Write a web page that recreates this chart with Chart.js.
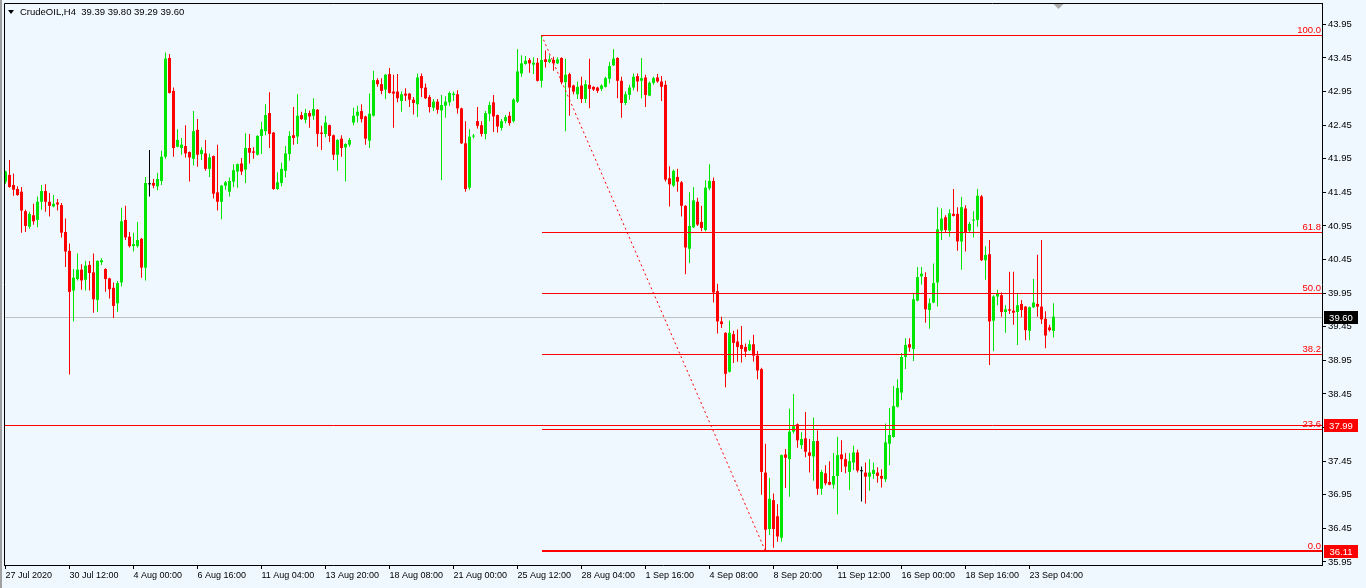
<!DOCTYPE html>
<html>
<head>
<meta charset="utf-8">
<script src="https://cdn.jsdelivr.net/npm/chart.js@4/dist/chart.umd.min.js"></script>
<style>
html,body{margin:0;padding:0;background:#F0F8FF;overflow:hidden}
canvas{display:block}
</style>
</head>
<body>
<canvas id="c" width="1366" height="588"></canvas>
<script>
// ---------------- DATA ----------------
const symbolTitle = 'CrudeOIL,H4';
const lastOHLC = ['39.39', '39.80', '39.29', '39.60'];

const opens = [
41.61,41.71,41.56,41.50,41.46,41.17,40.94,41.11,41.04,41.31,41.47,41.31,41.24,41.30,41.26,40.86,40.58,39.99,40.16,40.30,
40.15,40.37,40.26,39.85,40.41,40.31,40.17,40.03,39.80,40.11,41.04,40.79,40.65,40.65,40.76,40.33,41.57,41.59,41.54,41.62,
41.98,43.45,42.96,42.13,42.11,42.14,42.05,41.95,42.38,42.02,42.03,41.80,41.99,41.45,41.31,41.55,41.46,41.61,41.76,41.88,
41.79,42.11,42.06,42.01,42.29,42.36,42.63,42.34,41.50,41.59,41.77,42.02,42.30,42.28,42.60,42.53,42.63,42.59,42.68,42.34,
42.32,42.45,42.30,42.01,42.25,42.12,42.16,42.49,42.59,42.66,42.58,42.22,42.59,43.12,43.06,42.98,43.21,42.95,42.95,42.81,
42.92,42.92,42.83,42.76,43.18,43.01,42.87,42.71,42.80,42.67,42.74,42.79,42.90,42.91,42.70,42.18,41.52,42.28,42.51,42.45,
42.32,42.62,42.79,42.60,42.41,42.51,42.59,42.51,42.80,43.22,43.36,43.42,43.35,43.38,43.11,43.43,43.39,43.42,43.37,43.45,
43.09,43.21,43.04,42.91,43.04,42.84,43.05,43.02,43.01,42.99,43.02,43.14,43.34,43.45,43.11,42.78,42.90,43.01,43.18,43.11,
43.16,42.89,43.08,43.16,43.10,43.05,41.66,41.55,41.68,41.60,41.25,40.61,40.93,41.31,41.01,40.89,41.51,41.62,39.98,39.53,
39.36,38.78,39.34,39.23,39.18,39.15,39.10,39.19,39.02,38.82,37.28,36.44,36.87,36.63,36.31,37.55,37.48,37.89,38.00,37.69,
37.79,37.58,37.52,37.75,37.04,37.27,37.14,37.10,37.23,37.55,37.48,37.29,37.43,37.58,37.30,37.28,37.22,37.26,37.28,37.23,
37.18,37.71,37.81,38.26,38.47,39.00,39.19,39.12,39.84,40.20,40.19,39.70,39.81,40.11,40.88,41.08,40.88,41.13,41.13,40.72,
41.21,40.88,41.03,41.04,41.39,40.44,40.53,39.54,39.90,39.92,39.67,39.71,39.69,39.67,39.79,39.75,39.39,39.74,39.79,39.75,
39.57,39.44,39.39
];
const highs = [
41.77,41.93,41.73,41.54,41.53,41.19,41.16,41.28,41.39,41.56,41.57,41.44,41.41,41.35,41.29,41.06,40.69,40.31,40.54,40.38,
40.43,40.43,40.54,40.44,40.47,40.32,40.18,40.11,40.13,41.22,41.25,40.86,40.85,41.01,40.77,41.68,42.08,41.65,41.74,42.07,
43.53,43.51,43.01,42.39,42.26,42.45,42.06,42.66,42.54,42.12,42.23,42.03,42.00,42.16,41.56,41.62,41.67,41.87,41.88,41.96,
42.33,42.32,42.12,42.30,42.50,42.76,42.94,42.35,41.75,41.89,42.14,42.36,42.72,42.91,42.65,42.69,42.67,42.85,42.69,42.44,
42.59,42.46,42.31,42.24,42.30,42.18,42.26,42.71,42.74,42.76,42.59,42.92,43.26,43.15,43.15,43.21,43.30,43.20,43.21,42.95,
43.00,42.93,42.87,43.22,43.22,43.07,42.90,42.84,42.84,42.90,42.88,42.95,42.95,42.97,42.71,42.51,42.39,42.32,42.72,42.51,
42.66,42.80,42.90,42.61,42.54,42.60,42.65,42.85,43.58,43.49,43.48,43.45,43.46,43.45,43.79,43.56,43.49,43.47,43.46,43.46,
43.44,43.23,43.05,43.10,43.17,43.12,43.44,43.03,43.02,43.06,43.17,43.39,43.58,43.46,43.17,42.95,43.05,43.22,43.22,43.45,
43.20,43.10,43.17,43.21,43.18,43.11,41.84,41.79,41.80,41.62,41.26,41.45,41.53,41.37,41.25,41.63,41.87,41.67,40.09,39.60,
39.37,39.54,39.39,39.41,39.46,39.20,39.25,39.33,39.09,38.84,37.71,37.20,36.97,36.81,37.55,37.63,38.23,38.45,38.01,37.88,
38.18,37.78,38.10,37.91,37.32,37.39,37.45,37.57,37.81,37.76,37.57,37.57,37.68,37.62,37.37,37.43,37.48,37.43,37.36,37.33,
38.01,38.24,38.57,38.67,39.06,39.28,39.28,39.95,40.34,40.34,40.26,39.87,40.39,41.23,41.21,41.11,41.20,41.50,41.23,41.38,
41.26,41.01,41.17,41.50,41.41,40.65,40.74,39.92,40.00,39.96,39.77,40.27,40.27,39.94,39.85,39.76,39.75,40.16,40.52,40.74,
39.68,39.48,39.80
];
const lows = [
41.58,41.52,41.40,41.40,40.85,40.86,40.91,40.97,40.93,41.19,41.16,41.09,41.23,41.18,40.78,40.34,38.74,39.53,40.14,40.00,
39.99,39.99,39.66,39.67,40.37,39.97,39.87,39.58,39.67,40.05,40.74,40.63,40.57,40.63,40.18,40.14,41.39,41.51,41.48,41.56,
41.95,42.92,41.98,42.12,42.01,41.97,41.61,41.85,41.83,41.93,41.77,41.68,41.36,41.18,41.05,41.49,41.39,41.53,41.52,41.71,
41.59,41.88,41.95,42.00,42.02,42.30,42.11,41.49,41.49,41.54,41.67,41.92,42.16,42.17,42.53,42.48,42.41,42.53,42.13,42.08,
42.27,42.20,41.93,41.77,41.98,41.61,42.13,42.45,42.49,42.49,42.16,42.11,42.58,43.02,42.91,42.84,42.92,42.41,42.79,42.65,
42.81,42.72,42.61,42.57,42.87,42.84,42.64,42.66,42.62,41.63,42.56,42.74,42.81,42.62,42.17,41.46,41.49,42.25,42.40,42.28,
42.24,42.51,42.35,42.34,42.37,42.48,42.44,42.49,42.78,43.17,43.35,43.23,43.21,43.10,43.01,43.31,43.37,43.26,43.36,43.06,
42.36,42.59,42.91,42.84,42.78,42.78,42.70,42.96,42.93,42.96,43.01,43.07,43.33,42.85,42.56,42.75,42.83,42.97,42.95,42.85,
42.72,42.88,43.05,43.08,42.81,41.61,41.24,41.53,41.46,41.09,40.23,40.40,40.92,40.95,40.87,40.87,41.48,39.81,39.35,39.43,
38.55,38.77,38.91,38.93,38.92,39.00,39.09,38.93,38.67,36.95,36.11,36.35,36.16,36.25,36.25,37.05,36.92,37.86,37.65,37.63,
37.51,37.28,37.16,36.95,36.95,37.09,37.09,37.04,36.66,37.29,37.27,37.02,37.32,37.28,36.85,36.82,37.01,37.19,37.13,37.06,
37.14,37.39,37.80,38.25,38.36,38.82,39.08,38.94,39.83,40.08,39.51,39.42,39.80,39.75,40.74,40.86,40.79,41.09,40.58,40.30,
40.57,40.85,40.78,40.94,40.43,40.15,38.88,39.09,39.77,39.60,39.36,39.64,39.48,39.18,39.59,39.25,39.25,39.73,39.60,39.49,
39.13,39.38,39.29
];
const closes = [
41.76,41.53,41.49,41.41,41.18,40.95,41.13,41.02,41.31,41.47,41.31,41.25,41.28,41.27,40.85,40.57,39.97,40.18,40.30,40.14,
40.36,40.25,39.86,40.43,40.44,40.16,40.01,39.76,40.10,41.02,40.78,40.65,40.68,40.74,40.33,41.59,41.57,41.55,41.65,41.98,
43.44,42.93,42.11,42.23,42.16,42.03,41.97,42.36,42.01,42.08,41.80,41.97,41.43,41.31,41.55,41.60,41.62,41.78,41.87,41.76,
42.11,42.04,42.04,42.29,42.39,42.60,42.32,41.50,41.60,41.80,42.03,42.29,42.26,42.59,42.54,42.63,42.58,42.69,42.32,42.32,
42.49,42.29,42.01,42.23,42.11,42.17,42.23,42.59,42.65,42.54,42.25,42.62,43.12,43.06,42.96,43.20,42.93,42.92,42.85,42.91,
42.89,42.83,42.78,43.16,43.00,42.85,42.72,42.80,42.68,42.75,42.80,42.93,42.92,42.70,42.18,41.50,42.28,42.29,42.44,42.32,
42.63,42.75,42.58,42.43,42.51,42.57,42.48,42.83,43.25,43.37,43.41,43.37,43.38,43.11,43.42,43.39,43.43,43.37,43.43,43.09,
43.20,43.01,42.95,43.02,42.84,43.06,42.99,42.98,42.96,43.04,43.15,43.33,43.44,43.11,42.78,42.91,43.01,43.17,43.10,43.15,
42.90,43.08,43.15,43.10,43.02,41.64,41.57,41.77,41.61,41.25,40.63,40.95,41.33,40.97,40.92,41.52,41.62,39.96,39.53,39.49,
38.75,39.36,39.21,39.15,39.12,39.08,39.19,39.02,38.80,37.29,36.43,36.89,36.44,36.33,37.54,37.50,37.89,37.97,37.76,37.78,
37.59,37.53,37.75,37.04,37.29,37.12,37.10,37.23,37.54,37.48,37.37,37.45,37.58,37.31,37.30,37.22,37.28,37.32,37.23,37.19,
37.73,37.84,38.27,38.54,39.00,39.18,39.14,39.86,40.19,40.24,39.71,39.80,40.10,40.90,41.06,40.89,41.14,41.10,40.72,41.23,
40.86,40.98,41.04,41.40,40.44,40.52,39.53,39.90,39.94,39.67,39.71,39.69,39.66,39.77,39.70,39.40,39.74,39.81,39.75,39.56,
39.32,39.40,39.60
];

const xTickLabels = ['27 Jul 2020','30 Jul 12:00','4 Aug 00:00','6 Aug 16:00','11 Aug 04:00','13 Aug 20:00',
  '18 Aug 08:00','21 Aug 00:00','25 Aug 12:00','28 Aug 04:00','1 Sep 16:00','4 Sep 08:00','8 Sep 20:00',
  '11 Sep 12:00','16 Sep 00:00','18 Sep 16:00','23 Sep 04:00'];
const xTickStep = 16; // bars between time labels
const yTickValues = [35.95,36.45,36.95,37.45,37.95,38.45,38.95,39.45,39.95,40.45,40.95,41.45,41.95,42.45,42.95,43.45,43.95];

// Fibonacci retracement anchors (bar index, price) and levels
const fibHighBar = 134, fibHighPrice = 43.79;
const fibLowBar = 190, fibLowPrice = 36.11;
const fibLevels = [0.0, 23.6, 38.2, 50.0, 61.8, 100.0];
const hLinePrice = 37.99;
const currentPrice = 39.60;

// ---------------- STYLE ----------------
const BG = '#F0F8FF';
const UP = '#00E600';
const DOWN = '#FF0000';
const DOJI = '#000000';
const FONT = 'Liberation Sans, Arial, sans-serif';
const TXT = '9.5px ' + FONT;

const candleColors = opens.map((o, i) => closes[i] > o ? UP : (closes[i] < o ? DOWN : DOJI));
const wickData = opens.map((o, i) => ({ x: i, y: [lows[i], highs[i]] }));
const bodyData = opens.map((o, i) => ({ x: i, y: [o, closes[i]] }));

const overlay = {
  id: 'overlay',
  beforeDraw(chart) {
    const ctx = chart.ctx;
    ctx.save();
    ctx.fillStyle = BG;
    ctx.fillRect(0, 0, chart.width, chart.height);
    ctx.fillStyle = '#A0A0A0';
    ctx.fillRect(0, 0, 2, chart.height);
    ctx.restore();
  },
  beforeDatasetsDraw(chart) {
    const { ctx, chartArea: a, scales: { y } } = chart;
    const py = Math.round(y.getPixelForValue(currentPrice)) + 0.5;
    ctx.save();
    ctx.strokeStyle = '#C0C0C0';
    ctx.lineWidth = 1;
    ctx.beginPath(); ctx.moveTo(a.left, py); ctx.lineTo(a.right, py); ctx.stroke();
    ctx.restore();
  },
  afterDatasetsDraw(chart) {
    const { ctx, chartArea: a, scales: { x, y } } = chart;
    ctx.save();
    ctx.beginPath(); ctx.rect(a.left, a.top, a.right - a.left, a.bottom - a.top); ctx.clip();
    // full width horizontal line
    let py = Math.round(y.getPixelForValue(hLinePrice)) + 0.5;
    ctx.strokeStyle = DOWN;
    ctx.lineWidth = 1;
    ctx.beginPath(); ctx.moveTo(a.left, py); ctx.lineTo(a.right, py); ctx.stroke();
    // fib levels
    const x0 = Math.round(x.getPixelForValue(fibHighBar));
    ctx.font = TXT;
    ctx.textAlign = 'right';
    ctx.textBaseline = 'alphabetic';
    fibLevels.forEach(lv => {
      const price = fibLowPrice + (fibHighPrice - fibLowPrice) * lv / 100;
      const yy = Math.round(y.getPixelForValue(price));
      ctx.strokeStyle = DOWN;
      ctx.lineWidth = lv === 0 ? 2 : 1;
      const off = lv === 0 ? 0 : 0.5;
      ctx.beginPath(); ctx.moveTo(x0, yy + off); ctx.lineTo(a.right, yy + off); ctx.stroke();
      ctx.fillStyle = DOWN;
      ctx.fillText(lv.toFixed(1), a.right - 1, yy - 2);
    });
    // dotted trend line
    ctx.strokeStyle = DOWN;
    ctx.lineWidth = 1;
    ctx.setLineDash([2, 3]);
    ctx.beginPath();
    ctx.moveTo(x.getPixelForValue(fibHighBar), y.getPixelForValue(fibHighPrice));
    ctx.lineTo(x.getPixelForValue(fibLowBar), y.getPixelForValue(fibLowPrice));
    ctx.stroke();
    ctx.restore();
  },
  afterDraw(chart) {
    const { ctx, chartArea: a, scales: { x, y } } = chart;
    ctx.save();
    // frame (left/top)
    ctx.strokeStyle = '#000';
    ctx.lineWidth = 1;
    ctx.beginPath();
    ctx.moveTo(a.left + 0.5, a.bottom); ctx.lineTo(a.left + 0.5, a.top + 0.5); ctx.lineTo(a.right, a.top + 0.5);
    ctx.stroke();
    // header
    ctx.fillStyle = '#000';
    ctx.beginPath(); ctx.moveTo(8, 10); ctx.lineTo(14, 10); ctx.lineTo(11, 14); ctx.closePath(); ctx.fill();
    ctx.font = TXT;
    ctx.textAlign = 'left';
    ctx.textBaseline = 'middle';
    ctx.fillText(symbolTitle + '  ' + lastOHLC.join(' '), 20, 12.5);
    // shift marker
    const sx = x.getPixelForValue(opens.length - 1) + 5;
    ctx.fillStyle = '#A9A9A9';
    ctx.beginPath(); ctx.moveTo(sx - 5, a.top + 1); ctx.lineTo(sx + 5, a.top + 1); ctx.lineTo(sx, a.top + 6); ctx.closePath(); ctx.fill();
    // price boxes on axis
    const boxes = [[currentPrice, '#000000'], [hLinePrice, DOWN], [fibLowPrice, DOWN]];
    ctx.font = TXT;
    ctx.textAlign = 'center';
    boxes.forEach(([p, col]) => {
      const yy = Math.round(y.getPixelForValue(p));
      ctx.fillStyle = col;
      ctx.fillRect(a.right + 2, yy - 6, 34, 13);
      ctx.fillStyle = '#FFFFFF';
      ctx.fillText(p.toFixed(2), a.right + 19, yy + 1);
    });
    ctx.restore();
  }
};

Chart.defaults.font.family = FONT;
Chart.defaults.font.size = 9.5;
Chart.defaults.color = '#000';

new Chart(document.getElementById('c'), {
  type: 'bar',
  data: {
    datasets: [
      { label: 'wick', data: wickData, backgroundColor: candleColors, borderWidth: 0,
        barThickness: 1, maxBarThickness: 1, grouped: false, inflateAmount: 0, order: 2 },
      { label: 'body', data: bodyData, backgroundColor: candleColors, borderWidth: 0,
        barThickness: 3, maxBarThickness: 3, grouped: false, inflateAmount: 0, minBarLength: 1, order: 1 }
    ]
  },
  options: {
    responsive: false,
    animation: false,
    devicePixelRatio: 1,
    layout: { padding: { left: 4, top: 3, right: 0, bottom: 0 } },
    plugins: { legend: { display: false }, tooltip: { enabled: false } },
    scales: {
      x: {
        type: 'linear', min: -0.375, max: 329.125, offset: false, bounds: 'data',
        afterBuildTicks: s => { s.ticks = xTickLabels.map((_, k) => ({ value: k * xTickStep })); },
        afterFit: s => { s.height = 23; s.paddingLeft = 0; s.paddingRight = 0; },
        ticks: { autoSkip: false, maxRotation: 0, minRotation: 0, align: 'start', padding: 1,
          color: '#000', font: { size: 9, family: FONT },
          callback: (v, idx) => xTickLabels[idx] },
        grid: { drawOnChartArea: false, drawTicks: true, tickLength: 4, color: '#000', offset: false },
        border: { display: true, color: '#000', width: 1 }
      },
      y: {
        type: 'linear', position: 'right', min: 35.905, max: 44.268, offset: false, bounds: 'data',
        afterBuildTicks: s => { s.ticks = yTickValues.map(v => ({ value: v })); },
        afterFit: s => { s.width = 44; s.paddingTop = 0; s.paddingBottom = 0; },
        ticks: { padding: 2, color: '#000', font: { size: 9.5, family: FONT },
          callback: v => Number(v).toFixed(2) },
        grid: { drawOnChartArea: false, drawTicks: true, tickLength: 4, color: '#000' },
        border: { display: true, color: '#000', width: 1 }
      }
    }
  },
  plugins: [overlay]
});
</script>
</body>
</html>
